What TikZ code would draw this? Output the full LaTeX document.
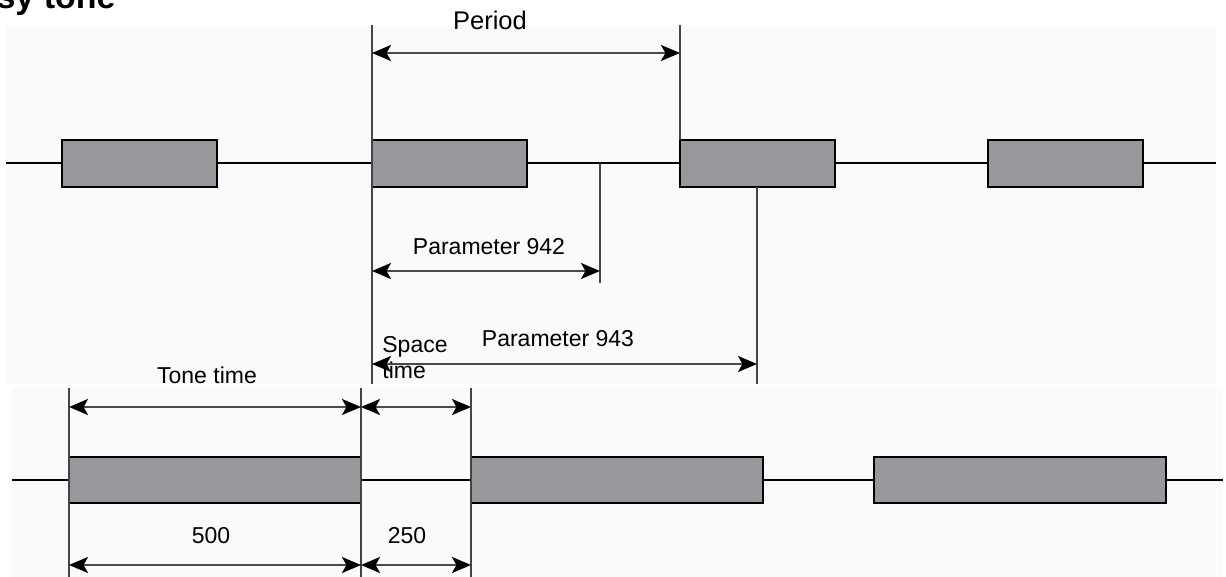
\documentclass[tikz,border=0pt]{standalone}
\usepackage{fontspec}
\setmainfont{Liberation Sans}
\usetikzlibrary{arrows.meta}
\definecolor{panelbg}{HTML}{FAFAFA}
\definecolor{boxfill}{RGB}{150,152,156}
\definecolor{dimline}{HTML}{454545}
\definecolor{arrline}{HTML}{4A4A4A}
\tikzset{
  sig/.style={line width=1.1pt, black},
  tonebox/.style={draw=black, line width=1.25pt, fill=boxfill, inner sep=0pt, outer sep=0pt},
  ext/.style={line width=0.7pt, dimline},
  dim/.style={line width=1pt, arrline, {Stealth[length=9.5pt,width=8pt,inset=2.2pt,black]}-{Stealth[length=9.5pt,width=8pt,inset=2.2pt,black]}},
  lbl/.style={inner sep=0pt, font=\fontsize{11.5}{13}\selectfont},
}
\begin{document}
\begin{tikzpicture}[x=0.5pt,y=-0.5pt]
\useasboundingbox (0,0) rectangle (1226,577);
\fill[panelbg] (6,25) rectangle (1216,384);
\fill[panelbg] (12,388) rectangle (1223,577);

% title (cut off at the page edge, as in the reference)
\node[inner sep=0pt, anchor=base east, font=\fontsize{17}{19}\selectfont\bfseries] (title) at (116,9) {Busy tone};

% ---------- top diagram ----------
\coordinate (la) at (6,163);
\coordinate (lb) at (1216,163);
\draw[sig] (la) -- (lb);
\node[tonebox, minimum width=77.5pt, minimum height=23.5pt] (t1) at (139.5,163.5) {};
\node[tonebox, minimum width=77.5pt, minimum height=23.5pt] (t2) at (449.5,163.5) {};
\node[tonebox, minimum width=77.5pt, minimum height=23.5pt] (t3) at (757.5,163.5) {};
\node[tonebox, minimum width=77.5pt, minimum height=23.5pt] (t4) at (1065.5,163.5) {};

\coordinate (e1a) at (372,25);   \coordinate (e1b) at (372,384);
\coordinate (e2a) at (680,25);   \coordinate (e2b) at (680,140);
\coordinate (e3a) at (600,163);  \coordinate (e3b) at (600,283);
\coordinate (e4a) at (757,187);  \coordinate (e4b) at (757,384);
\draw[ext] (e1a) -- (e1b);
\draw[ext] (e2a) -- (e2b);
\draw[ext] (e3a) -- (e3b);
\draw[ext] (e4a) -- (e4b);

\coordinate (pa) at (372,53);  \coordinate (pb) at (680,53);
\coordinate (qa) at (372,271); \coordinate (qb) at (600,271);
\coordinate (ra) at (372,364); \coordinate (rb) at (757,364);
\draw[dim] (pa) -- (pb);
\draw[dim] (qa) -- (qb);
\draw[dim] (ra) -- (rb);

\node[lbl, anchor=base, font=\fontsize{12.75}{14}\selectfont] (period) at (490,30) {Period};
\node[lbl, anchor=base] (p942) at (489,255) {Parameter 942};
\node[lbl, anchor=base] (p943) at (558,346) {Parameter 943};

\begin{scope}
\clip (0,0) rectangle (1226,384);
\node[lbl, anchor=base west] (space) at (382,352) {Space};
\node[lbl, anchor=base west] (stime) at (382,379) {time};
\node[lbl, anchor=base] (tonetime) at (207,383) {Tone time};
\end{scope}

% ---------- bottom diagram ----------
\coordinate (ma) at (12,480);
\coordinate (mb) at (1223,480);
\draw[sig] (ma) -- (mb);
\node[tonebox, minimum width=146pt, minimum height=23pt] (b1) at (215,480) {};
\node[tonebox, minimum width=146pt, minimum height=23pt] (b2) at (617,480) {};
\node[tonebox, minimum width=146pt, minimum height=23pt] (b3) at (1020,480) {};

\coordinate (f1a) at (69,388);  \coordinate (f1b) at (69,577);
\coordinate (f2a) at (361,388); \coordinate (f2b) at (361,577);
\coordinate (f3a) at (471,388); \coordinate (f3b) at (471,577);
\draw[ext] (f1a) -- (f1b);
\draw[ext] (f2a) -- (f2b);
\draw[ext] (f3a) -- (f3b);

\coordinate (ua) at (69,407);  \coordinate (ub) at (361,407); \coordinate (uc) at (471,407);
\coordinate (va) at (69,565);  \coordinate (vb) at (361,565); \coordinate (vc) at (471,565);
\draw[dim] (ua) -- (ub);
\draw[dim] (ub) -- (uc);
\draw[dim] (va) -- (vb);
\draw[dim] (vb) -- (vc);

\node[lbl, anchor=base] (n500) at (211,543) {500};
\node[lbl, anchor=base] (n250) at (407,543) {250};
\end{tikzpicture}
\end{document}
